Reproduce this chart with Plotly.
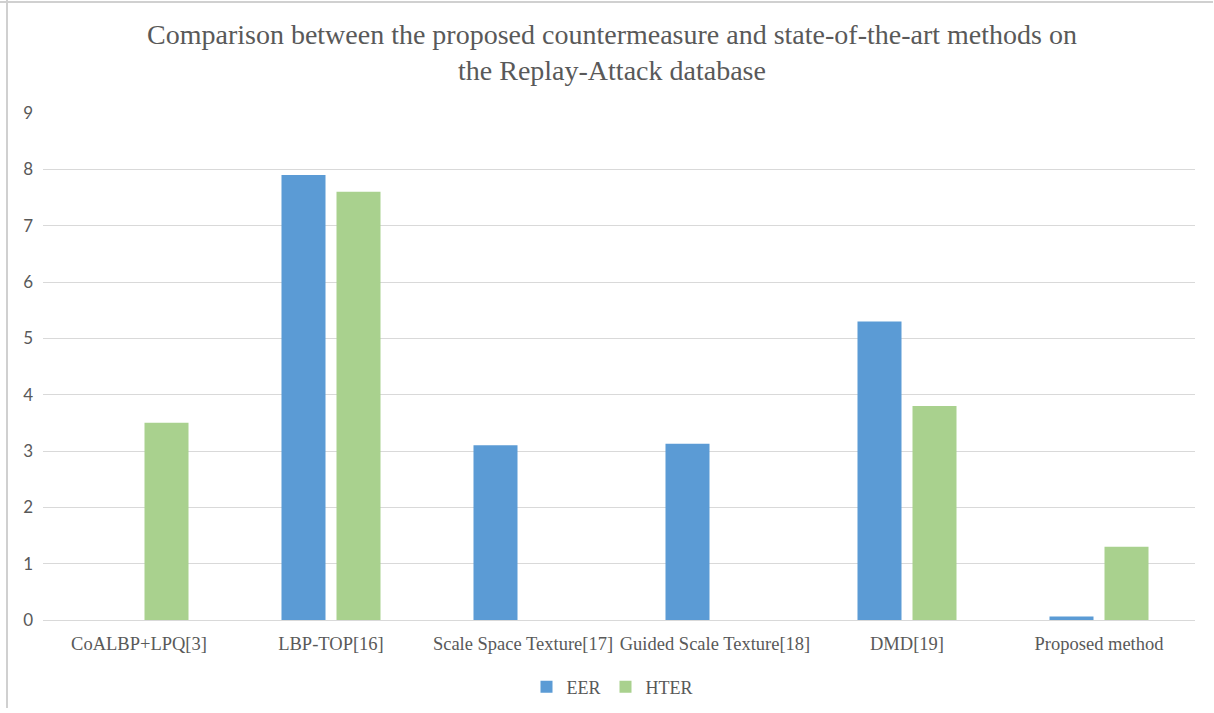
import plotly.graph_objects as go

categories = ["CoALBP+LPQ[3]", "LBP-TOP[16]", "Scale Space Texture[17]",
              "Guided Scale Texture[18]", "DMD[19]", "Proposed method"]
eer = [None, 7.9, 3.1, 3.13, 5.3, 0.06]
hter = [3.5, 7.6, None, None, 3.8, 1.3]
y_ticks = list(range(0, 10))
title_text = ("Comparison between the proposed countermeasure and state-of-the-art methods on"
              "<br>the Replay-Attack database")

text_color = "#595959"
grid_color = "#D9D9D9"

fig = go.Figure()
fig.add_trace(go.Bar(name="EER", x=categories, y=eer, marker_color="#5B9BD5",
                     marker_line_width=0))
fig.add_trace(go.Bar(name="HTER", x=categories, y=hter, marker_color="#A9D18E",
                     marker_line_width=0))

fig.update_layout(
    width=1214, height=713,
    paper_bgcolor="white", plot_bgcolor="white",
    margin=dict(l=43, r=19, t=113, b=93, autoexpand=False),
    barmode="group", bargap=0.427, bargroupgap=0.2,
    legend=dict(
        orientation="h", x=(612 - 43) / 1152, xanchor="center",
        y=(620 - 687) / 507, yanchor="middle",
        font=dict(family="Liberation Serif", size=18, color=text_color),
        traceorder="normal", itemwidth=30,
    ),
    showlegend=True,
)

fig.add_annotation(
    text=title_text, showarrow=False,
    xref="paper", yref="paper",
    x=(612 - 43) / 1152, xanchor="center",
    y=(620 - 52) / 507, yanchor="middle",
    font=dict(family="Liberation Serif", size=28, color=text_color),
)

fig.update_xaxes(
    showgrid=False, showline=True, linecolor=grid_color, linewidth=1,
    ticks="", tickangle=0, automargin=False, ticklabelstandoff=7,
    tickfont=dict(family="Liberation Serif", size=18.5, color=text_color),
)
fig.update_yaxes(
    range=[0, 9], tickvals=y_ticks, showgrid=True, gridcolor=grid_color, gridwidth=1,
    zeroline=False, showline=False, ticks="", automargin=False, ticklabelstandoff=9,
    tickfont=dict(family="Lato", size=17, color=text_color),
)

# outer frame lines (top and left) as in the reference
fig.add_shape(type="line", xref="paper", yref="paper",
              x0=(0 - 43) / 1152, x1=(1213 - 43) / 1152,
              y0=(620 - 2) / 507, y1=(620 - 2) / 507,
              line=dict(color="#D0D0D0", width=2))
fig.add_shape(type="line", xref="paper", yref="paper",
              x0=(7 - 43) / 1152, x1=(7 - 43) / 1152,
              y0=(620 - 0) / 507, y1=(620 - 708) / 507,
              line=dict(color="#D0D0D0", width=2))

fig.write_html("out.html")
